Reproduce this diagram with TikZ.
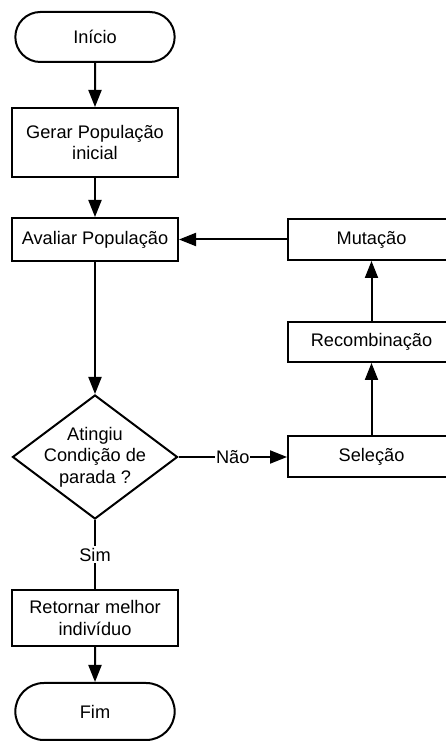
\documentclass[tikz,border=0pt]{standalone}
\usepackage{fontspec}
\setmainfont{Liberation Sans}
\usetikzlibrary{shapes.geometric,shapes.misc,arrows.meta}
\begin{document}
\begin{tikzpicture}[
        x=1pt, y=1pt,
        node distance=100pt,
        font=\fontsize{18.2}{21.5}\selectfont,
        % Estilos das caixas
        startstop/.style={rounded rectangle, minimum width=166pt, minimum height=50pt, text centered, draw=black, line width=2pt, fill=white},
        process/.style={rectangle, minimum width=166pt, minimum height=42pt, text centered, align=center, draw=black, line width=2pt, fill=white},
        decision/.style={diamond, minimum width=165pt, minimum height=124pt, inner sep=0pt, draw=black, line width=2pt, fill=white},
        arrow/.style={line width=2pt,->,>={Triangle[length=17pt,width=13pt]}},
        line/.style={line width=2pt}
    ]
        % Area visivel (as caixas da direita saem da imagem)
        \useasboundingbox (0,0) rectangle (446,742);
        \clip (0,0) rectangle (446,742);

        % Coluna principal
        \node (start) [startstop] at (95,705) {Início};
        \node (gen) [process, minimum height=69pt, node distance=105.5pt, below of=start] {Gerar População\\inicial};
        \node (eval) [process, minimum height=43pt, node distance=97pt, below of=gen] {Avaliar População};
        \node (cond) [decision, node distance=217.5pt, below of=eval] {};
        \node (condtext) [align=center] at (cond) {Atingiu\\Condição de\\parada ?};
        \node (ret) [process, minimum height=56pt, node distance=161pt, below of=cond] {Retornar melhor\\indivíduo};
        \node (fim) [startstop, minimum height=57pt, node distance=93.5pt, below of=ret] {Fim};

        % Coluna da direita (operadores)
        \node (mut) [process, minimum width=167pt, minimum height=41pt, node distance=276.5pt, right of=eval] {Mutação};
        \node (rec) [process, minimum width=167pt, minimum height=40pt, node distance=102.5pt, below of=mut] {Recombinação};
        \node (sel) [process, minimum width=167pt, minimum height=41pt, node distance=115pt, below of=rec] {Seleção};

        % Conexoes
        \draw[arrow] (start) -- (gen);
        \draw[arrow] (gen) -- (eval);
        \draw[arrow] (eval) -- (cond);
        \draw[arrow] (cond) -- node[fill=white, inner sep=1pt] {Não} (sel);
        \draw[arrow] (sel) -- (rec);
        \draw[arrow] (rec) -- (mut);
        \draw[arrow] (mut) -- (eval);
        \draw[line] (cond) -- node[fill=white, inner sep=2pt] {Sim} (ret);
        \draw[arrow] (ret) -- (fim);

    \end{tikzpicture}
\end{document}
